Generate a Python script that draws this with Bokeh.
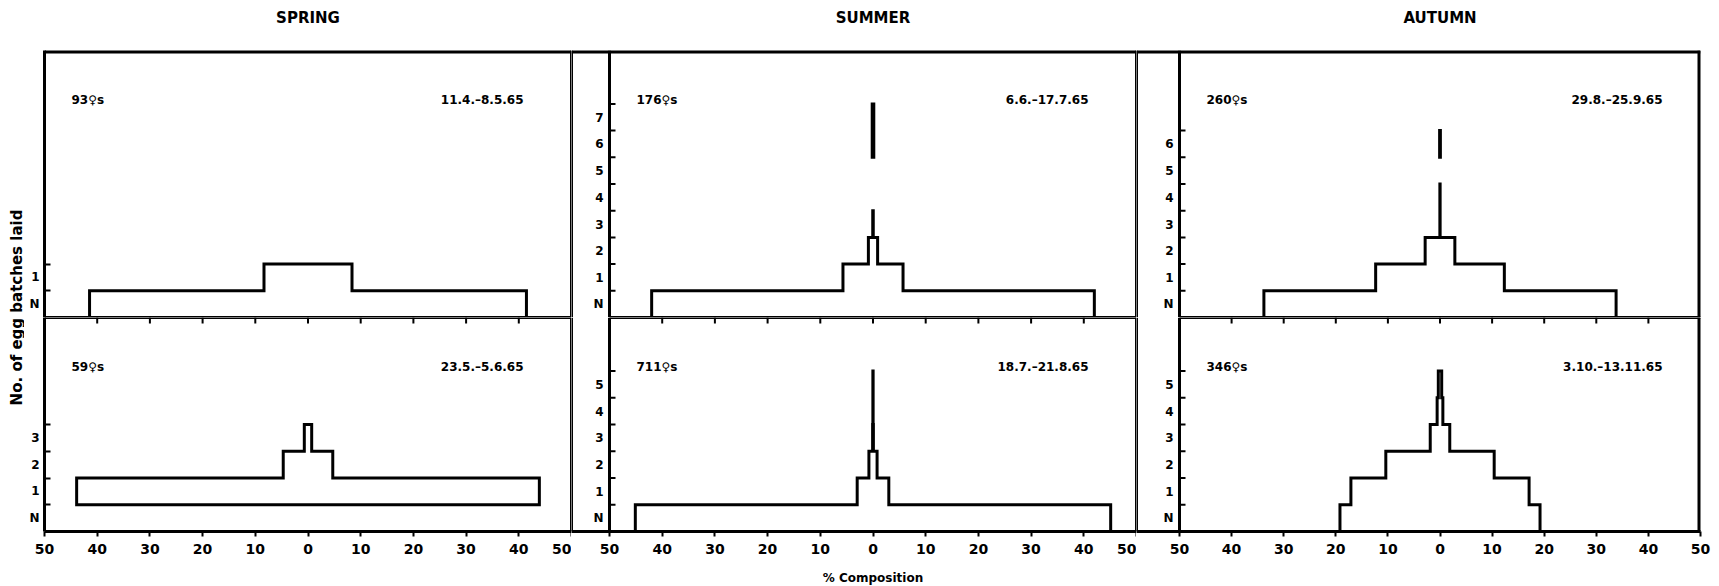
import math
from bokeh.plotting import figure
from bokeh.layouts import row, column
from bokeh.models import FixedTicker
from bokeh.core.properties import value
from bokeh.embed import file_html
from bokeh.resources import INLINE

# ---------------- data ----------------
seasons = ["SPRING", "SUMMER", "AUTUMN"]
level_labels = ["N", "1", "2", "3", "4", "5", "6", "7"]
x_ticks = [-50, -40, -30, -20, -10, 0, 10, 20, 30, 40, 50]
x_title = "% Composition"
y_title = "No. of egg batches laid"

# % composition of females at each number of egg batches laid (N = none)
spring_early = [82.9, 16.7]
spring_late = [0.0, 87.8, 9.4, 1.4]
summer_early = [84.0, 11.4, 1.75, 0.1, 0.0, 0.0, 0.3, 0.3]
summer_late = [90.2, 6.0, 1.55, 0.15, 0.05, 0.05]
autumn_early = [67.6, 24.7, 5.7, 0.05, 0.05, 0.0, 0.15]
autumn_late = [38.4, 34.2, 20.8, 3.75, 1.1, 0.65]

females = ["93♀s", "59♀s", "176♀s", "711♀s", "260♀s", "346♀s"]
periods = ["11.4.–8.5.65", "23.5.–5.6.65", "6.6.–17.7.65",
           "18.7.–21.8.65", "29.8.–25.9.65", "3.10.–13.11.65"]

# ---------------- styling / geometry ----------------
FONT = "DejaVu Sans"
INK = "black"
LW = 3.0
TOP_LEVELS, BOT_LEVELS = 10, 8
HEADER_H = 50
TOP_FRAME_H, BOT_FRAME_H = 267, 214
BOT_BORDER = 30
FOOTER_H = 25
YLAB_W = 24
SPRING_AXIS_W = 20
panel_w = [527, 527, 521]
strip_w = [0, 38, 43]
right_border = [0, 0, 19]
date_gap = [48, 48, 38]
BODY_H = TOP_FRAME_H + BOT_FRAME_H + BOT_BORDER
TOTAL_W = YLAB_W + SPRING_AXIS_W + sum(panel_w) + sum(strip_w) + sum(right_border)


def kite_outline(widths):
    """Outline of the symmetric stepped diagram, one polygon per run of non-empty levels."""
    xs, ys = [], []
    i, n = 0, len(widths)
    while i < n:
        if widths[i] <= 0:
            i += 1
            continue
        j = i
        while j < n and widths[j] > 0:
            j += 1
        px, py = [], []
        for k in range(i, j):
            h = widths[k] / 2.0
            px += [-h, -h]
            py += [k - 0.5, k + 0.5]
        for k in range(j - 1, i - 1, -1):
            h = widths[k] / 2.0
            px += [h, h]
            py += [k + 0.5, k - 0.5]
        xs.append(px)
        ys.append(py)
        i = j
    return xs, ys


def bare(width, height, xr, yr):
    f = figure(width=width, height=height, x_range=xr, y_range=yr,
               x_axis_location=None, y_axis_location=None, toolbar_location=None,
               output_backend="svg", title=None, min_border=0)
    f.outline_line_color = None
    f.grid.visible = False
    return f


def make_panel(c, top, widths, sample, period):
    pw, sw = panel_w[c], strip_w[c]
    upp = 100.0 / pw
    x0 = -50 - sw * upp
    n_lev = TOP_LEVELS if top else BOT_LEVELS
    frame_h = TOP_FRAME_H if top else BOT_FRAME_H
    ppl = frame_h / n_lev
    ylo, yhi = -0.5, n_lev - 0.5
    left_b = SPRING_AXIS_W if c == 0 else 0
    width = left_b + sw + pw + right_border[c]
    height = frame_h + (0 if top else BOT_BORDER)
    p = figure(width=width, height=height, x_range=(x0, 50), y_range=(ylo, yhi),
               x_axis_location=None if top else "below",
               y_axis_location="left" if c == 0 else None,
               toolbar_location=None, output_backend="svg", title=None,
               min_border_left=left_b, min_border_right=right_border[c],
               min_border_top=0, min_border_bottom=0 if top else BOT_BORDER)
    p.outline_line_color = None
    p.grid.visible = False
    p.background_fill_color = "white"
    p.border_fill_color = "white"

    def seg(xa, ya, xb, yb, w):
        p.segment(x0=[xa], y0=[ya], x1=[xb], y1=[yb], line_color=INK, line_width=w)

    # frame lines (lines on the frame edge are half clipped)
    seg(50, ylo, 50, yhi, 2 * LW if c == 2 else LW)
    if c > 0:
        seg(x0, ylo, x0, yhi, LW)
        seg(-50, ylo, -50, yhi, LW)
    if top:
        seg(x0, yhi, 50, yhi, 2 * LW)
        seg(-50, ylo, 50, ylo, LW)
    else:
        seg(-50, yhi, 50, yhi, LW)
        inner = x_ticks[1:-1]
        p.segment(x0=inner, y0=[yhi] * len(inner), x1=inner,
                  y1=[yhi - 6.0 / ppl] * len(inner), line_color=INK, line_width=2)

    # the stepped diagram
    xs, ys = kite_outline(widths)
    p.patches(xs, ys, fill_color=None, line_color=INK, line_width=LW, line_join="miter")

    # level labels
    n = len(widths)
    if c == 0:
        ax = p.yaxis[0]
        ax.ticker = FixedTicker(ticks=list(range(n)), minor_ticks=[k + 0.5 for k in range(n)])
        ax.major_label_overrides = {k: level_labels[k] for k in range(n)}
        ax.major_tick_in = 0
        ax.major_tick_out = 0
        ax.minor_tick_in = 6
        ax.minor_tick_out = 0
        ax.minor_tick_line_width = 2
        ax.minor_tick_line_color = INK
        ax.axis_line_width = LW
        ax.axis_line_color = INK
        ax.major_label_standoff = 5
        ax.major_label_text_font = FONT
        ax.major_label_text_font_style = "bold"
        ax.major_label_text_font_size = "12px"
        ax.major_label_text_color = INK
    else:
        p.text(x=[-50] * n, y=list(range(n)), text=level_labels[:n], x_offset=-6,
               text_align="right", text_baseline="middle", text_font=value(FONT),
               text_font_style="bold", text_font_size="12px", text_color=INK)
        p.segment(x0=[-50] * n, y0=[k + 0.5 for k in range(n)],
                  x1=[-50 + 6 * upp] * n, y1=[k + 0.5 for k in range(n)],
                  line_color=INK, line_width=2)

    # panel annotations
    ty = yhi - 49.0 / ppl
    p.text(x=[-50], y=[ty], text=[sample], x_offset=27, text_align="left",
           text_baseline="middle", text_font=value(FONT), text_font_style="bold",
           text_font_size="12px", text_color=INK)
    p.text(x=[50], y=[ty], text=[period], x_offset=-date_gap[c], text_align="right",
           text_baseline="middle", text_font=value(FONT), text_font_style="bold",
           text_font_size="12px", text_color=INK)

    if not top:
        ax = p.xaxis[0]
        ax.ticker = FixedTicker(ticks=x_ticks)
        ax.major_label_overrides = {t: str(abs(t)) for t in x_ticks}
        ax.major_tick_out = 5
        ax.major_tick_in = 0
        ax.major_tick_line_width = 2
        ax.major_tick_line_color = INK
        ax.minor_tick_line_color = None
        ax.axis_line_width = LW
        ax.axis_line_color = INK
        ax.major_label_standoff = 7
        ax.major_label_text_font = FONT
        ax.major_label_text_font_style = "bold"
        ax.major_label_text_font_size = "14px"
        ax.major_label_text_color = INK
    return p


sp_t = make_panel(0, True, spring_early, females[0], periods[0])
sp_b = make_panel(0, False, spring_late, females[1], periods[1])
su_t = make_panel(1, True, summer_early, females[2], periods[2])
su_b = make_panel(1, False, summer_late, females[3], periods[3])
au_t = make_panel(2, True, autumn_early, females[4], periods[4])
au_b = make_panel(2, False, autumn_late, females[5], periods[5])

# centres of the three panels, in page pixels from the left of the layout
centres = []
left = YLAB_W + SPRING_AXIS_W
for c in range(3):
    left += strip_w[c]
    centres.append(left + panel_w[c] / 2.0)
    left += panel_w[c]

header = bare(TOTAL_W, HEADER_H, (0, TOTAL_W), (0, HEADER_H))
header.text(x=centres, y=[HEADER_H - 17] * 3, text=seasons, text_align="center",
            text_baseline="middle", text_font=value(FONT), text_font_style="bold",
            text_font_size="15px", text_color=INK)

footer = bare(TOTAL_W, FOOTER_H, (0, TOTAL_W), (0, FOOTER_H))
footer.text(x=[centres[1]], y=[FOOTER_H - 16], text=[x_title], text_align="center",
            text_baseline="middle", text_font=value(FONT), text_font_style="bold",
            text_font_size="12px", text_color=INK)

ylab = bare(YLAB_W, BODY_H, (0, YLAB_W), (0, BODY_H))
ylab.text(x=[16], y=[BODY_H - (307 - HEADER_H)], text=[y_title], angle=math.pi / 2,
          text_align="center", text_baseline="middle", text_font=value(FONT),
          text_font_style="bold", text_font_size="15px", text_color=INK)

body = row(ylab, column(sp_t, sp_b), column(su_t, su_b), column(au_t, au_b))
layout = column(header, body, footer)

open("out.html", "w").write(file_html(layout, INLINE))
